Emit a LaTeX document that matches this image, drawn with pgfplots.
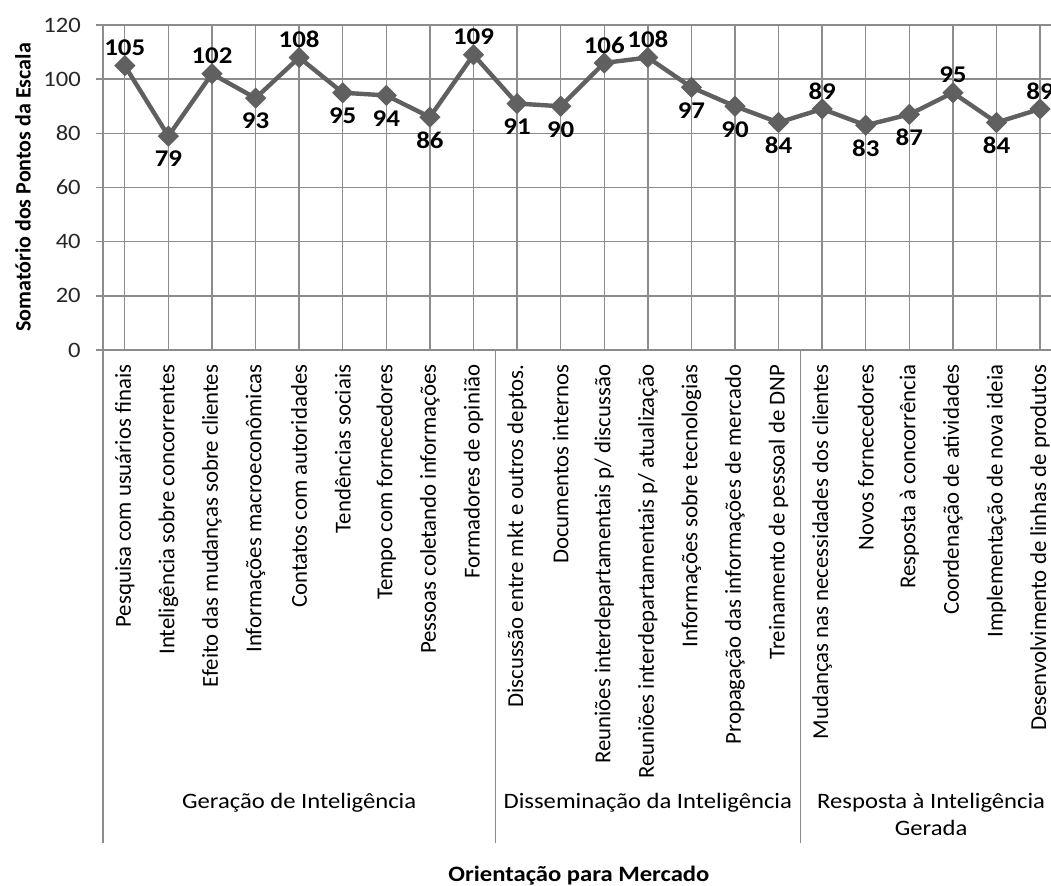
\documentclass[border=0pt]{standalone}
\usepackage{pgfplots}
\pgfplotsset{compat=1.18}
\usepackage{pgfplotstable}
\usepackage{fontspec}
% texto horizontal um pouco alargado, como na figura original
\setmainfont{Carlito}[FakeStretch=1.12]
\newfontfamily\rotfont{Carlito}
\usetikzlibrary{calc}

\definecolor{serie}{RGB}{96,96,96}
\definecolor{grade}{RGB}{140,140,140}

% x = posicao da categoria, y = soma, dy = deslocamento do rotulo (pt)
\pgfplotstableread{
x  y    dy
0  105  9
1  79   -11.5
2  102  9
3  93   -11.5
4  108  9
5  95   -11.5
6  94   -11.5
7  86   -11.5
8  109  9
9  91   -11.5
10 90   -11.5
11 106  9
12 108  9
13 97   -11.5
14 90   -11.5
15 84   -11.5
16 89   9
17 83   -11.5
18 87   -11.5
19 95   9
20 84   -11.5
21 89   9
}\dados

\begin{document}
\begin{tikzpicture}
\begin{axis}[
  scale only axis,
  width=474pt, height=162.5pt,
  xmin=-0.5, xmax=21.25,
  ymin=0, ymax=120,
  ytick={0,20,...,120},
  xtick={0,...,21},
  xticklabels={
    {Pesquisa com usuários finais},
    {Inteligência sobre concorrentes},
    {Efeito das mudanças sobre clientes},
    {Informações macroeconômicas},
    {Contatos com autoridades},
    {Tendências sociais},
    {Tempo com fornecedores},
    {Pessoas coletando informações},
    {Formadores de opinião},
    {Discussão entre mkt e outros deptos.},
    {Documentos internos},
    {Reuniões interdepartamentais p/ discussão},
    {Reuniões interdepartamentais p/ atualização},
    {Informações sobre tecnologias},
    {Propagação das informações de mercado},
    {Treinamento de pessoal de DNP},
    {Mudanças nas necessidades dos clientes},
    {Novos fornecedores},
    {Resposta à concorrência},
    {Coordenação de atividades},
    {Implementação de nova ideia},
    {Desenvolvimento de linhas de produtos}},
  xmajorgrids, ymajorgrids,
  grid style={grade, line width=0.7pt},
  axis x line*=bottom, axis y line*=left,
  axis line style={grade, line width=0.7pt},
  tick align=outside,
  major tick length=3.5pt,
  x tick style={draw=none},
  y tick style={grade, line width=0.7pt},
  /pgf/number format/assume math mode=true,
  yticklabel style={font=\fontsize{11}{13}\selectfont, text=black!85},
  xticklabel style={font=\rotfont\fontsize{11.4}{13}\selectfont, text=black,
    rotate=90, anchor=east},
  xticklabel shift=0.3pt,
  yticklabel shift=4.1pt,
  ylabel={Somatório dos Pontos da Escala},
  ylabel style={font=\rotfont\bfseries\fontsize{11}{13}\selectfont,
    at={(axis description cs:-0.0844,0.5)}, anchor=center},
  xlabel={Orientação para Mercado},
  xlabel style={font=\bfseries\fontsize{11}{13}\selectfont,
    at={(axis description cs:0.502,-1.618)}, anchor=center},
  clip=false,
]
\addplot[serie, line width=2.2pt, mark=square*,
  mark size=3.5pt, mark options={rotate=45, fill=serie, draw=serie, line width=0.5pt},
  nodes near coords,
  visualization depends on={\thisrow{dy} \as \dy},
  every node near coord/.append style={anchor=center, yshift=\dy pt,
    text=black, font=\bfseries\fontsize{12}{14}\selectfont},
  ] table[x=x, y=y] {\dados};

% separadores dos grupos de categorias
\draw[grade, line width=0.7pt] (axis cs:-0.5,0) -- ++(0pt,-246.5pt);
\draw[grade, line width=0.7pt] (axis cs:8.5,0) -- ++(0pt,-246.5pt);
\draw[grade, line width=0.7pt] (axis cs:15.5,0) -- ++(0pt,-246.5pt);

\node[font=\fontsize{11}{13}\selectfont, yshift=-226.5pt] at (axis cs:4,0) {Geração de Inteligência};
\node[font=\fontsize{11}{13}\selectfont, yshift=-226.5pt] at (axis cs:12,0) {Disseminação da Inteligência};
\node[font=\fontsize{11}{13}\selectfont, yshift=-226.5pt] at (axis cs:18.5,0) {Resposta à Inteligência};
\node[font=\fontsize{11}{13}\selectfont, yshift=-239pt] at (axis cs:18.5,0) {Gerada};

\coordinate (O) at (rel axis cs:0,0);
\end{axis}
\pgfresetboundingbox
\useasboundingbox ($(O)+(-51.5pt,-267.5pt)$) rectangle ($(O)+(474pt,175pt)$);
\end{tikzpicture}
\end{document}
